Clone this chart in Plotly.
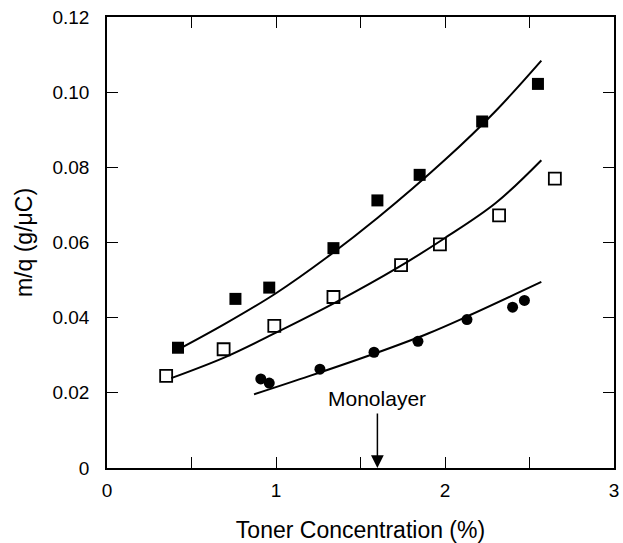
import plotly.graph_objects as go

# Filled squares
fs_x = [0.42, 0.76, 0.96, 1.34, 1.60, 1.85, 2.22, 2.55]
fs_y = [0.0320, 0.0450, 0.0480, 0.0585, 0.0712, 0.0780, 0.0922, 0.1022]
# Open squares
os_x = [0.35, 0.69, 0.99, 1.34, 1.74, 1.97, 2.32, 2.65]
os_y = [0.0245, 0.0316, 0.0378, 0.0455, 0.0540, 0.0595, 0.0672, 0.0770]
# Filled circles
fc_x = [0.91, 0.96, 1.26, 1.58, 1.84, 2.13, 2.40, 2.47]
fc_y = [0.0237, 0.0226, 0.0263, 0.0308, 0.0337, 0.0395, 0.0428, 0.0446]

# Fitted curves
c1_x = [0.40, 0.70, 1.00, 1.30, 1.60, 2.00, 2.30, 2.57]
c1_y = [0.0310, 0.0384, 0.0465, 0.0560, 0.0665, 0.0820, 0.0950, 0.1084]
c2_x = [0.38, 0.70, 1.00, 1.35, 1.72, 2.00, 2.30, 2.57]
c2_y = [0.0239, 0.0295, 0.0360, 0.0440, 0.0533, 0.0612, 0.0705, 0.0819]
c3_x = [0.87, 1.20, 1.58, 1.90, 2.13, 2.57]
c3_y = [0.0196, 0.0245, 0.0304, 0.0358, 0.0403, 0.0495]

x_ticks = [0, 0.5, 1, 1.5, 2, 2.5, 3]
x_ticktext = ["0", "", "1", "", "2", "", "3"]
y_ticks = [0, 0.02, 0.04, 0.06, 0.08, 0.10, 0.12]
y_ticktext = ["0", "0.02", "0.04", "0.06", "0.08", "0.10", "0.12"]

monolayer_x = 1.6

fig = go.Figure()
for cx, cy in [(c1_x, c1_y), (c2_x, c2_y), (c3_x, c3_y)]:
    fig.add_trace(go.Scatter(x=cx, y=cy, mode="lines",
                             line=dict(color="black", width=2, shape="spline"), showlegend=False))

fig.add_trace(go.Scatter(x=fs_x, y=fs_y, mode="markers",
                         marker=dict(symbol="square", size=12, color="black"), showlegend=False))
fig.add_trace(go.Scatter(x=os_x, y=os_y, mode="markers",
                         marker=dict(symbol="square-open", size=12, color="black", line=dict(width=1.8)), showlegend=False))
fig.add_trace(go.Scatter(x=fc_x, y=fc_y, mode="markers",
                         marker=dict(symbol="circle", size=11, color="black"), showlegend=False))

fig.add_annotation(x=monolayer_x, y=0, ax=monolayer_x, ay=0.0149, xref="x", yref="y",
                   axref="x", ayref="y", showarrow=True, arrowhead=2, arrowsize=1.7,
                   arrowwidth=1.5, arrowcolor="black", text="", standoff=0)
fig.add_annotation(x=monolayer_x, y=0.0186, xref="x", yref="y", text="Monolayer",
                   showarrow=False, font=dict(size=21, color="black"))

font = "Liberation Sans, Arial, sans-serif"
fig.update_layout(
    width=623, height=543,
    margin=dict(l=107, r=4, t=17, b=74),
    paper_bgcolor="white", plot_bgcolor="white",
    font=dict(family=font, size=19, color="black"),
    xaxis=dict(range=[0, 3], tickvals=x_ticks, ticktext=x_ticktext, ticks="inside",
               ticklen=11, tickwidth=1.2, tickcolor="black", showline=True, linecolor="black",
               linewidth=1.5, mirror="ticks", showgrid=False, zeroline=False,
               ticklabelstandoff=4,
               title=dict(text="Toner Concentration (%)", standoff=22)),
    yaxis=dict(range=[0, 0.12], tickvals=y_ticks, ticktext=y_ticktext, ticks="inside",
               ticklen=11, tickwidth=1.2, tickcolor="black", showline=True, linecolor="black",
               linewidth=1.5, mirror="ticks", showgrid=False, zeroline=False,
               ticklabelstandoff=12,
               title=dict(text="m/q (g/μC)", standoff=13)),
)
fig.write_html("out.html")
